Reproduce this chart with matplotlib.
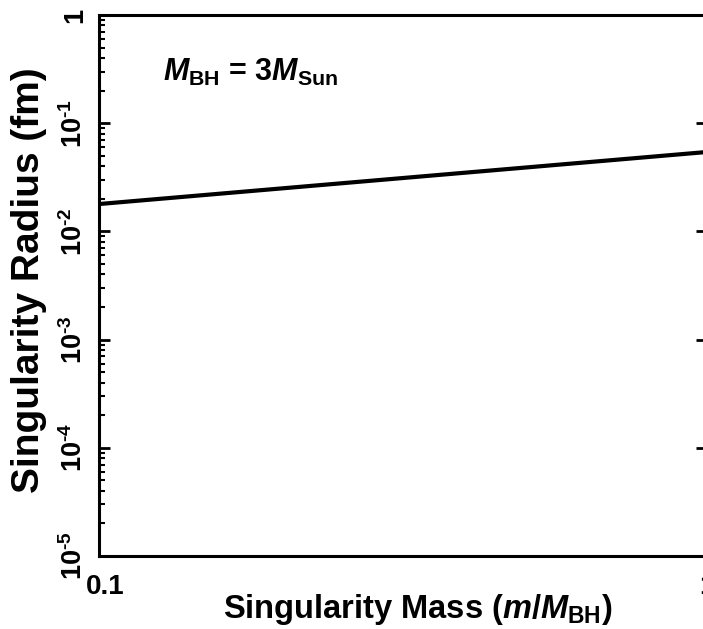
import matplotlib
matplotlib.use('Agg')
import matplotlib.pyplot as plt
import matplotlib.transforms as mtransforms
from matplotlib.ticker import LogLocator, NullFormatter, FixedLocator

plt.rcParams['font.family'] = ['Liberation Sans', 'DejaVu Sans']
plt.rcParams['font.weight'] = 'bold'
plt.rcParams['mathtext.fontset'] = 'custom'
plt.rcParams['mathtext.rm'] = 'Liberation Sans:bold'
plt.rcParams['mathtext.it'] = 'Liberation Sans:bold:italic'
plt.rcParams['mathtext.bf'] = 'Liberation Sans:bold'
plt.rcParams['mathtext.default'] = 'rm'

# datos
masa = [0.1, 1.0]
radio = [0.0179, 0.0542]
yticks = [1e-5, 1e-4, 1e-3, 1e-2, 1e-1, 1]
ytick_labels = [r'10$^{\text{-5}}$', r'10$^{\text{-4}}$', r'10$^{\text{-3}}$',
                r'10$^{\text{-2}}$', r'10$^{\text{-1}}$', '1']
xticks = [0.1, 1]
xtick_labels = ['0.1', '1']

fig = plt.figure(figsize=(7.03, 6.29), dpi=100)
ax = fig.add_axes([99 / 703, 1 - 556 / 629, 608 / 703, 541 / 629])

ax.plot(masa, radio, color='black', linewidth=3)

ax.set_xscale('log')
ax.set_yscale('log')
ax.set_xlim(0.1, 1)
ax.set_ylim(1e-5, 1)

ax.set_yticks(yticks)
ax.set_yticklabels(ytick_labels, rotation=90, va='center', fontsize=19.5)
ax.yaxis.set_minor_locator(LogLocator(base=10, subs=range(2, 10), numticks=20))
ax.yaxis.set_minor_formatter(NullFormatter())
ax.tick_params(axis='y', which='major', direction='in', length=8, width=2,
               left=True, right=True, pad=8)
ax.tick_params(axis='y', which='minor', direction='in', length=4, width=1.5,
               left=True, right=False)

ax.xaxis.set_major_locator(FixedLocator(xticks))
ax.set_xticklabels(xtick_labels, fontsize=20)
ax.xaxis.set_minor_formatter(NullFormatter())
ax.tick_params(axis='x', which='both', length=0, pad=13)
desplaza = mtransforms.ScaledTranslation(6 / 100, 0, fig.dpi_scale_trans)
lab01 = ax.get_xticklabels()[0]
lab01.set_transform(lab01.get_transform() + desplaza)

for s in ax.spines.values():
    s.set_linewidth(2.2)

ax.set_ylabel('Singularity Radius (fm)', fontsize=28, fontweight='bold')
ax.set_xlabel(r'Singularity Mass ($\mathit{m/M}_{\mathrm{BH}}$)', fontsize=23.5,
              fontweight='bold')
ax.xaxis.set_label_coords(0.525, -0.066)
ax.yaxis.set_label_coords(-0.085, 0.51)

ax.text(0.106, 0.893, r'$\mathit{M}_{\mathrm{BH}}$ = 3$\mathit{M}_{\mathrm{Sun}}$',
        transform=ax.transAxes, fontsize=22, fontweight='bold', va='center', ha='left')

fig.savefig('out.png', dpi=100)
